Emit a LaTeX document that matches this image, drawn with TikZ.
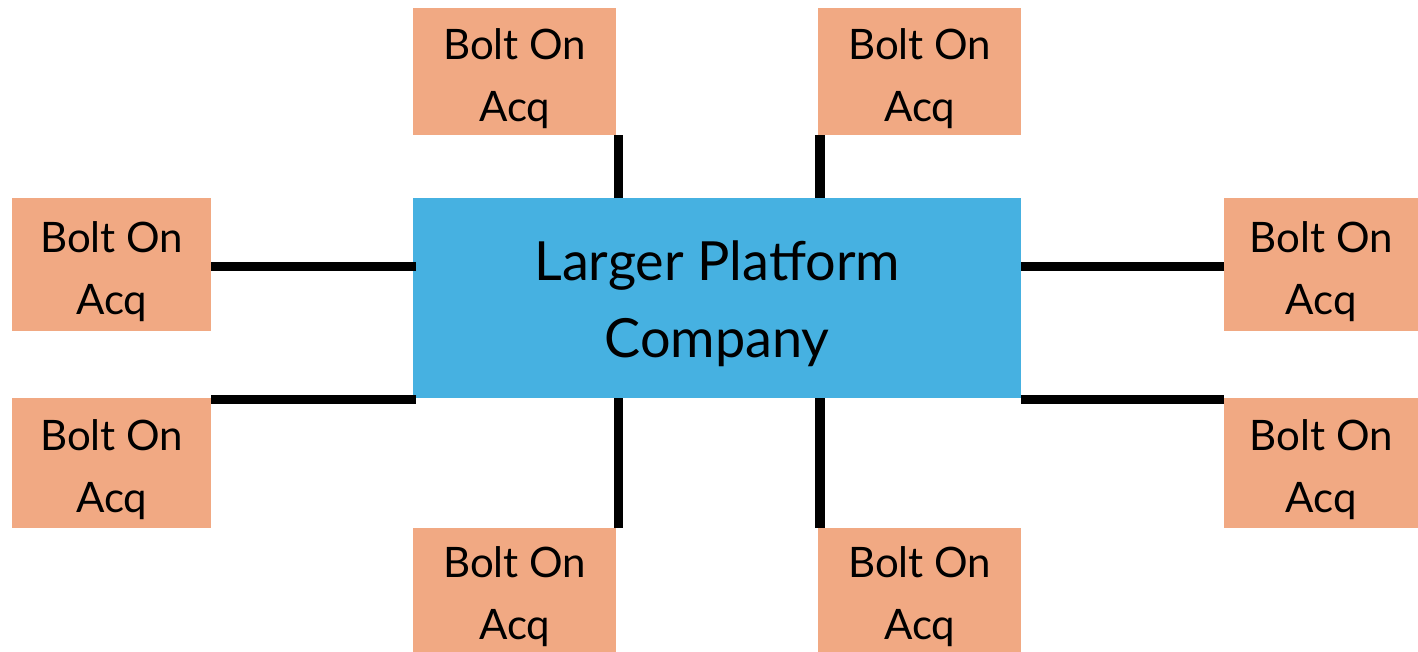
\documentclass[tikz,border=0pt]{standalone}
\usepackage{fontspec}
\setmainfont{Lato}
\definecolor{platformblue}{HTML}{46B1E1}
\definecolor{boltsalmon}{HTML}{F1A983}
\tikzset{
  boltbox/.style={fill=boltsalmon, draw=none, anchor=north west, inner sep=0pt,
    align=center, font={\fontsize{42}{62}\selectfont},
    text height=99pt, text depth=0pt},
  platbox/.style={fill=platformblue, draw=none, anchor=north west, inner sep=0pt,
    align=center, font={\fontsize{54}{77}\selectfont},
    text height=118pt, text depth=0pt,
    minimum width=608pt, minimum height=200pt},
  link/.style={line width=9.5pt, black}
}
\begin{document}
\begin{tikzpicture}[x=1pt, y=-1pt]
\useasboundingbox (0,0) rectangle (1418,652);

% central platform
\node[platbox] (c) at (413,198) {Larger Platform\\Company};

% bolt-on acquisitions
\node[boltbox, minimum width=203pt, minimum height=127pt] (tl) at (413,8) {Bolt On\\Acq};
\node[boltbox, minimum width=203pt, minimum height=127pt] (tr) at (818,8) {Bolt On\\Acq};
\node[boltbox, minimum width=199pt, minimum height=133pt] (l1) at (12,198) {Bolt On\\Acq};
\node[boltbox, minimum width=199pt, minimum height=130pt] (l2) at (12,398) {Bolt On\\Acq};
\node[boltbox, minimum width=194pt, minimum height=133pt] (r1) at (1224,198) {Bolt On\\Acq};
\node[boltbox, minimum width=194pt, minimum height=130pt] (r2) at (1224,398) {Bolt On\\Acq};
\node[boltbox, minimum width=203pt, minimum height=124pt] (bl) at (413,528) {Bolt On\\Acq};
\node[boltbox, minimum width=203pt, minimum height=124pt] (br) at (818,528) {Bolt On\\Acq};

% connectors
\draw[link] ([xshift=2pt]tl.south east) -- ([xshift=2pt]tl.south east |- c.north);
\draw[link] ([xshift=2pt]tr.south west) -- ([xshift=2pt]tr.south west |- c.north);
\draw[link] ([yshift=-2pt]l1.east) -- ([xshift=3pt,yshift=-2pt]l1.east -| c.west);
\draw[link] ([yshift=-1.5pt]l2.north east) -- ([xshift=3pt,yshift=-1.5pt]l2.north east -| c.west);
\draw[link] ([yshift=-2pt]r1.west) -- ([yshift=-2pt]r1.west -| c.east);
\draw[link] ([yshift=-1.5pt]r2.north west) -- ([yshift=-1.5pt]r2.north west -| c.east);
\draw[link] ([xshift=2pt]bl.north east) -- ([xshift=2pt]bl.north east |- c.south);
\draw[link] ([xshift=2pt]br.north west) -- ([xshift=2pt]br.north west |- c.south);
\end{tikzpicture}
\end{document}
